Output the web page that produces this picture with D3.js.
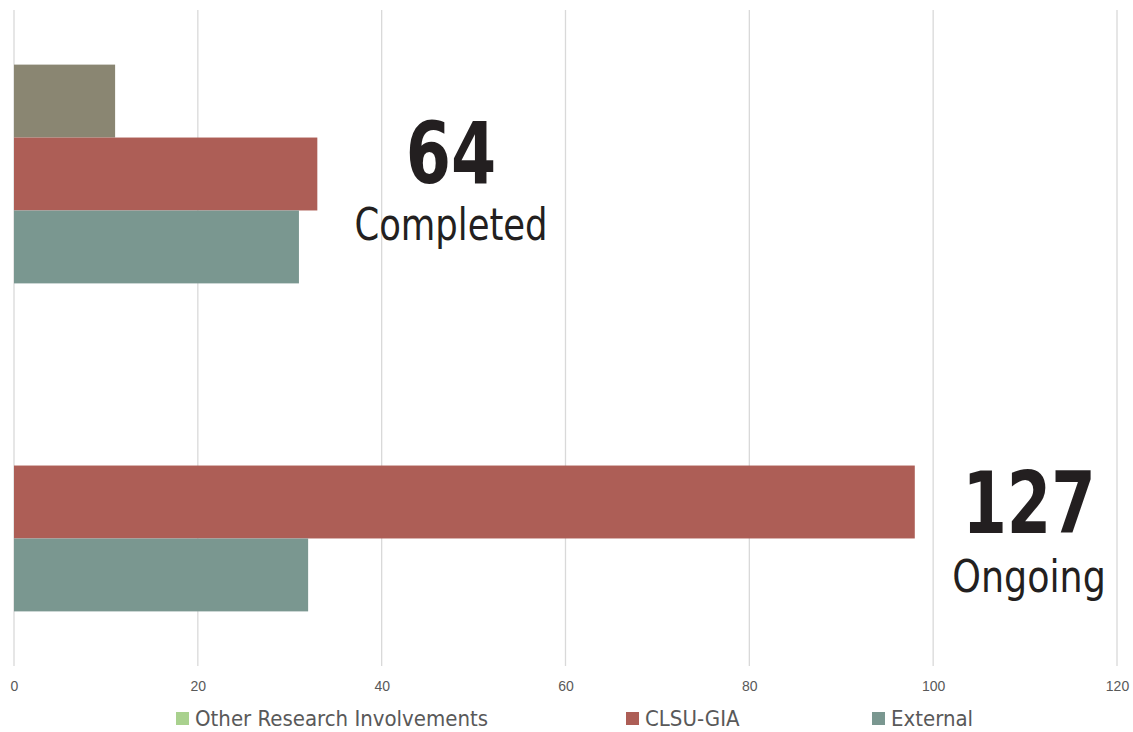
<!DOCTYPE html>
<meta charset="utf-8">
<style>
body { margin: 0; background: #fff; font-family: "Open Sans", sans-serif; }
.grid line { stroke: #d9d9d9; stroke-width: 1.3px; }
.tick text { fill: #595959; font-size: 14px; }
.legend text { fill: #595959; font-size: 22px; font-family: "Liberation Sans Narrow", "DejaVu Sans Condensed", sans-serif; }
.big { fill: #231f20; font-weight: bold; font-family: "Liberation Sans Narrow", "DejaVu Sans Condensed", sans-serif; }
.sub { fill: #231f20; font-family: "Liberation Sans Narrow", "DejaVu Sans Condensed", sans-serif; }
</style>
<body>
<script src="https://d3js.org/d3.v7.min.js"></script>
<script>
// categories, top to bottom
var categories = ["Completed", "Ongoing"];
var totals = [64, 127];

// series, top to bottom within each group
var seriesNames = ["Other Research Involvements", "CLSU-GIA", "External"];
var otherValues = [11, 0];
var clsuValues = [33, 98];
var externalValues = [31, 32];

var barColors = ["#8a8672", "#ad5e56", "#7a9790"];
var legendColors = ["#a9d18e", "#ad5e56", "#7a9790"];
var xTicks = [0, 20, 40, 60, 80, 100, 120];

var width = 1133, height = 732;
var margin = { top: 10, left: 14, right: 16, bottom: 66 };

var svg = d3.select("body").append("svg")
    .attr("width", width)
    .attr("height", height);

var x = d3.scaleLinear()
    .domain([0, 120])
    .range([margin.left, width - margin.right]);

var y0 = d3.scaleBand()
    .domain(categories)
    .range([margin.top, height - margin.bottom])
    .paddingInner(0.333)
    .paddingOuter(0.1665);

var y1 = d3.scaleBand()
    .domain(seriesNames)
    .range([0, y0.bandwidth()]);

// gridlines
svg.append("g")
    .attr("class", "grid")
  .selectAll("line")
    .data(xTicks)
  .enter().append("line")
    .attr("x1", function(d) { return x(d); })
    .attr("x2", function(d) { return x(d); })
    .attr("y1", margin.top)
    .attr("y2", height - margin.bottom);

// tick labels via axis
var axis = svg.append("g")
    .attr("transform", "translate(0," + (height - margin.bottom + 9) + ")")
    .call(d3.axisBottom(x).tickValues(xTicks).tickSize(0).tickPadding(6));
axis.select(".domain").remove();

var seriesData = [otherValues, clsuValues, externalValues];

categories.forEach(function(cat, i) {
  var g = svg.append("g").attr("transform", "translate(0," + y0(cat) + ")");
  g.selectAll("rect")
      .data(seriesNames.map(function(s, j) { return { name: s, value: seriesData[j][i], color: barColors[j] }; }))
    .enter().append("rect")
      .attr("x", x(0))
      .attr("y", function(d) { return y1(d.name); })
      .attr("width", function(d) { return x(d.value) - x(0); })
      .attr("height", y1.bandwidth())
      .attr("fill", function(d) { return d.color; });
});

// big annotations (condensed look via horizontal squeeze)
var labelPos = [
  { cx: 451, big: 183, sub: 240, bigSx: 0.84, subSx: 0.875 },
  { cx: 1029, big: 533, sub: 592, bigSx: 0.825, subSx: 0.9 }
];
categories.forEach(function(cat, i) {
  var p = labelPos[i];
  svg.append("text")
      .attr("class", "big")
      .attr("transform", "translate(" + p.cx + "," + p.big + ") scale(" + p.bigSx + ",1)")
      .attr("text-anchor", "middle")
      .style("font-size", "86px")
      .text(totals[i]);
  svg.append("text")
      .attr("class", "sub")
      .attr("transform", "translate(" + p.cx + "," + p.sub + ") scale(" + p.subSx + ",1)")
      .attr("text-anchor", "middle")
      .style("font-size", "45px")
      .text(cat);
});

// legend
var legendX = [176, 626, 872];
var legend = svg.append("g").attr("class", "legend")
  .selectAll("g")
    .data(seriesNames)
  .enter().append("g")
    .attr("transform", function(d, i) { return "translate(" + legendX[i] + ",712)"; });
legend.append("rect")
    .attr("width", 13)
    .attr("height", 13)
    .attr("fill", function(d, i) { return legendColors[i]; });
legend.append("text")
    .attr("x", 19)
    .attr("y", 14)
    .text(function(d) { return d; });
</script>
</body>
